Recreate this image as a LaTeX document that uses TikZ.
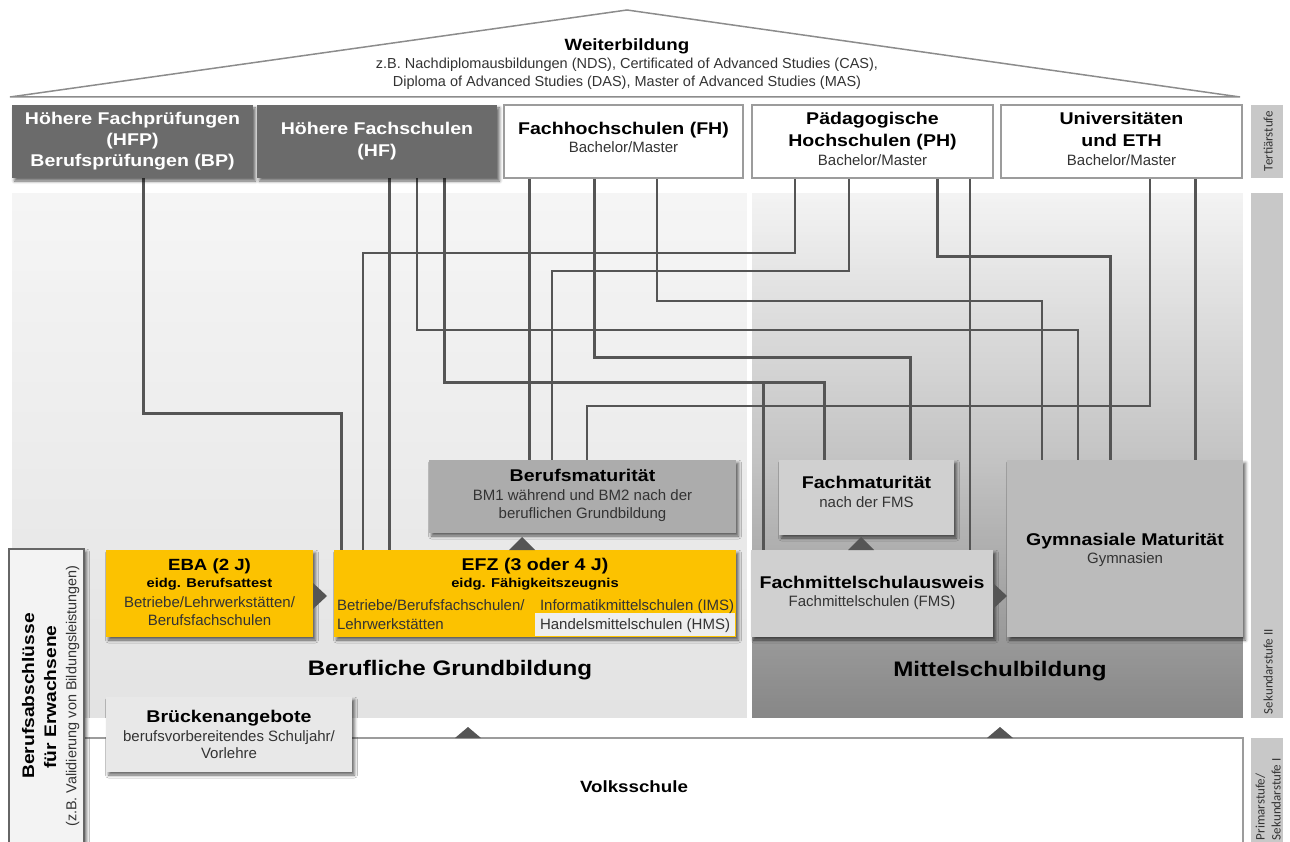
\documentclass[tikz,border=0pt]{standalone}
\usepackage{fontspec}
\setmainfont{Liberation Sans}[BoldFeatures={FakeStretch=1.15}]
\newfontfamily\lblfont{Carlito}
\usetikzlibrary{shadows.blur,backgrounds}
\definecolor{ln}{HTML}{555555}
\definecolor{dkbox}{HTML}{6B6B6B}
\definecolor{ylw}{HTML}{FCC200}
\definecolor{bmgray}{HTML}{ACACAC}
\definecolor{fmgray}{HTML}{D0D0D0}
\definecolor{gymgray}{HTML}{BBBBBB}
\definecolor{brugray}{HTML}{E8E8E8}
\definecolor{hmsgray}{HTML}{EEEEEE}
\definecolor{erwgray}{HTML}{F3F3F3}
\definecolor{lblgray}{HTML}{C8C8C8}
\definecolor{txtgray}{HTML}{333333}
\definecolor{roofgray}{HTML}{8C8C8C}
\definecolor{bordgray}{HTML}{9C9C9C}
\definecolor{bgA}{HTML}{F5F5F5}
\definecolor{bgB}{HTML}{E3E3E3}
\definecolor{mtA}{HTML}{F3F3F3}
\definecolor{mtB}{HTML}{C4C4C4}
\definecolor{mtC}{HTML}{878787}
\newcommand\fsz[1]{\fontsize{#1}{#1}\selectfont}
\newcommand\bx[6]{\node[#6, anchor=north west, inner sep=0pt, outer sep=0pt, minimum width={(#4)-(#2)}, minimum height={(#5)-(#3)}] (#1) at (#2,#3) {};}
\tikzset{
  thk/.style={draw=ln, line width=3pt},
  thn/.style={draw=ln, line width=1.5pt},
  shd/.style={blur shadow={shadow xshift=2.5pt, shadow yshift=-3pt, shadow blur radius=3pt, shadow opacity=60}},
  tx/.style={inner sep=0pt, outer sep=0pt, text depth=0pt},
  hd/.style={tx, font=\fsz{17}\bfseries, text height=12.2pt},
  hdw/.style={hd, text=white},
  rg/.style={tx, font=\fsz{15}, text=txtgray, text height=10.7pt},
  sb/.style={tx, font=\fsz{12.8}\bfseries, text height=9.2pt},
  bigt/.style={tx, font=\fsz{21}\bfseries, text height=15pt},
  lb/.style={tx, font=\lblfont\fsz{13}, text=txtgray, text height=9pt, rotate=90},
  tri/.style={fill=ln, draw=none},
  whitebox/.style={fill=white, draw=bordgray, line width=1.2pt},
  darkbox/.style={fill=dkbox, shd},
  lblbox/.style={fill=lblgray, draw=none},
  roofline/.style={draw=roofgray, line width=1.5pt}
}
\begin{document}
\begin{tikzpicture}[x=1pt,y=-1pt]
\useasboundingbox (0,0) rectangle (1290,842);
% roof
\draw[roofline] (10,97) -- (627,10) -- (1240,97) -- cycle;
% side labels
\bx{lt}{1251}{105}{1283}{178}{lblbox}
\bx{ls}{1251}{193}{1283}{718}{lblbox}
\bx{lp}{1251}{738}{1283}{860}{lblbox}
% tertiary boxes
\bx{hfp}{12}{105}{253}{178}{darkbox}
\bx{hf}{257}{105}{497}{178}{darkbox}
\bx{fh}{504}{105}{743}{178}{whitebox}
\bx{ph}{752}{105}{993}{178}{whitebox}
\bx{uni}{1001}{105}{1242}{178}{whitebox}
% secondary boxes
\bx{bm}{429}{460}{736}{533}{fill=bmgray, shd}
\bx{fma}{779}{460}{954}{535}{fill=fmgray, shd}
\bx{gym}{1007}{460}{1243}{637}{fill=gymgray, shd}
\bx{eba}{106}{550}{313}{637}{fill=ylw, shd}
\bx{efz}{334}{550}{736}{637}{fill=ylw, shd}
\bx{hms}{535}{613}{735}{636}{fill=hmsgray}
\bx{fms}{751}{550}{993}{637}{fill=fmgray, shd}
% primary
\bx{volk}{84}{738}{1243}{870}{fill=white, draw=bordgray, line width=1.2pt}
\bx{erw}{9}{549}{84}{870}{fill=erwgray, draw=ln!90, line width=1.5pt, shd}
\bx{bru}{106}{697}{352}{772}{fill=brugray, shd}
% backgrounds and connectors (after all shadowed nodes)
\begin{scope}[on background layer]
  \foreach \i in {0,...,174}{
    \pgfmathsetmacro\yy{193+3*\i}
    \pgfmathsetmacro\ye{min(\yy+3.4,718)}
    \pgfmathsetmacro\pp{100*(1-\i/174)}
    \fill[bgA!\pp!bgB] (12,\yy) rectangle (747,\ye);
  }
  \foreach \i in {0,...,87}{
    \pgfmathsetmacro\yy{193+3*\i}
    \pgfmathsetmacro\pp{100*(1-\i/87)}
    \fill[mtA!\pp!mtB] (752,\yy) rectangle (1243,\yy+3.4);
  }
  \foreach \i in {0,...,87}{
    \pgfmathsetmacro\yy{455+3*\i}
    \pgfmathsetmacro\ye{min(\yy+3.4,718)}
    \pgfmathsetmacro\pp{100*(1-\i/87)}
    \fill[mtB!\pp!mtC] (752,\yy) rectangle (1243,\ye);
  }
  \draw[thk] (hfp.south -| 143,0) |- (341,413) -- (efz.north -| 341,0);
  \draw[thn] (ph.south -| 795,0) |- (363,253) -- (efz.north -| 363,0);
  \draw[thk] (hf.south -| 389,0) -- (efz.north -| 389,0);
  \draw[thn] (hf.south -| 417,0) |- (1078,330) -- (gym.north -| 1078,0);
  \draw[thk] (hf.south -| 444,0) |- (824,382) -- (fma.north -| 824,0);
  \coordinate (j1) at (763,382);
  \draw[thk] (j1) -- (fms.north -| j1);
  \draw[thk] (fh.south -| 529,0) -- (bm.north -| 529,0);
  \draw[thn] (ph.south -| 849,0) |- (552,271) -- (bm.north -| 552,0);
  \draw[thk] (fh.south -| 594,0) |- (910,357) -- (fma.north -| 910,0);
  \draw[thn] (fh.south -| 657,0) |- (1042,301) -- (gym.north -| 1042,0);
  \draw[thn] (uni.south -| 1150,0) |- (587,406) -- (bm.north -| 587,0);
  \draw[thk] (ph.south -| 937,0) |- (1110,257) -- (gym.north -| 1110,0);
  \draw[thn] (ph.south -| 970,0) -- (fms.north -| 970,0);
  \draw[thk] (uni.south -| 1195,0) -- (gym.north -| 1195,0);
\end{scope}
% triangles
\fill[tri] (509,550) -- (522,537) -- (535,550) -- cycle;
\fill[tri] (848,550) -- (861,537) -- (874,550) -- cycle;
\fill[tri] (313,583) -- (327,596) -- (313,609) -- cycle;
\fill[tri] (993,583) -- (1007,596) -- (993,609) -- cycle;
\fill[tri] (455,738) -- (468,727) -- (481,738) -- cycle;
\fill[tri] (987,738) -- (1000,727) -- (1013,738) -- cycle;
% texts: roof
\node[hd, font=\fsz{16.3}\bfseries] (wbt) at (627,44) {Weiterbildung};
\node[rg, font=\fsz{14.5}] (wb1) at (627,63) {z.B. Nachdiplomausbildungen (NDS), Certificated of Advanced Studies (CAS),};
\node[rg, font=\fsz{14.5}] (wb2) at (627,81) {Diploma of Advanced Studies (DAS), Master of Advanced Studies (MAS)};
% tertiary texts
\node[hdw] (hfpa) at (132.5,118) {Höhere Fachprüfungen};
\node[hdw] (hfpb) at (132.5,139) {(HFP)};
\node[hdw] (hfpc) at (132.5,160) {Berufsprüfungen (BP)};
\node[hdw] (hfa) at (377,128) {Höhere Fachschulen};
\node[hdw] (hfb) at (377,150) {(HF)};
\node[hd] (fha) at (623.5,128) {Fachhochschulen (FH)};
\node[rg] (fhb) at (623.5,147) {Bachelor/Master};
\node[hd] (pha) at (872.5,118) {Pädagogische};
\node[hd] (phb) at (872.5,140) {Hochschulen (PH)};
\node[rg] (phc) at (872.5,160) {Bachelor/Master};
\node[hd] (unia) at (1121.5,118) {Universitäten};
\node[hd] (unib) at (1121.5,140) {und ETH};
\node[rg] (unic) at (1121.5,160) {Bachelor/Master};
% secondary texts
\node[hd] (bma) at (582.5,475) {Berufsmaturität};
\node[rg] (bmb) at (582.5,495) {BM1 während und BM2 nach der};
\node[rg] (bmc) at (582.5,513) {beruflichen Grundbildung};
\node[hd, font=\fsz{16.2}\bfseries] (ebaa) at (209.5,564) {EBA (2 J)};
\node[sb] (ebab) at (209.5,583) {eidg. Berufsattest};
\node[rg] (ebac) at (209.5,602) {Betriebe/Lehrwerkstätten/};
\node[rg] (ebad) at (209.5,620) {Berufsfachschulen};
\node[hd] (efza) at (535,564) {EFZ (3 oder 4 J)};
\node[sb] (efzb) at (535,583) {eidg. Fähigkeitszeugnis};
\node[rg, anchor=west] (efzc) at (337,605) {Betriebe/Berufsfachschulen/};
\node[rg, anchor=west] (efzd) at (337,624) {Lehrwerkstätten};
\node[rg, anchor=west] (efze) at (540,605) {Informatikmittelschulen (IMS)};
\node[rg, anchor=west] (efzf) at (540,624) {Handelsmittelschulen (HMS)};
\node[hd] (fmaa) at (866.5,482) {Fachmaturität};
\node[rg] (fmab) at (866.5,502) {nach der FMS};
\node[hd] (fmsa) at (872,582) {Fachmittelschulausweis};
\node[rg] (fmsb) at (872,601) {Fachmittelschulen (FMS)};
\node[hd] (gyma) at (1125,539) {Gymnasiale Maturität};
\node[rg] (gymb) at (1125,558) {Gymnasien};
\node[bigt] (bgt) at (450,668) {Berufliche Grundbildung};
\node[bigt] (mst) at (1000,669) {Mittelschulbildung};
% bridge, primary
\node[hd] (brua) at (229,716) {Brückenangebote};
\node[rg] (brub) at (229,736) {berufsvorbereitendes Schuljahr/};
\node[rg] (bruc) at (229,753) {Vorlehre};
\node[hd, font=\fsz{16.3}\bfseries] (volkt) at (634,786) {Volksschule};
% adults (vertical)
\node[hd, font=\fsz{16.7}\bfseries, rotate=90] (erwa) at (28,696) {Berufsabschlüsse};
\node[hd, font=\fsz{16.7}\bfseries, rotate=90] (erwb) at (50,697) {für Erwachsene};
\node[rg, font=\fsz{14.4}, rotate=90] (erwc) at (71,696) {(z.B. Validierung von Bildungsleistungen)};
% level labels
\node[lb] (ltt) at (1268,141) {Tertiärstufe};
\node[lb, anchor=west] (lst) at (1268,714) {Sekundarstufe II};
\node[lb, anchor=west] (lpa) at (1260,840) {Primarstufe/};
\node[lb, anchor=west] (lpb) at (1276,840) {Sekundarstufe I};
\end{tikzpicture}
\end{document}
